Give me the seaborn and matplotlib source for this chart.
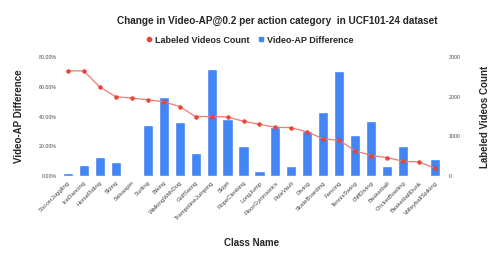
import seaborn as sns
import matplotlib.pyplot as plt
import pandas as pd
from matplotlib.ticker import PercentFormatter, FixedLocator
from matplotlib.lines import Line2D

sns.set_style("white")
plt.rcParams['font.family'] = ['Liberation Sans', 'DejaVu Sans']

classes = ["SoccerJuggling", "IceDancing", "HorseRiding", "Skiing", "Salsaspin",
           "Surfing", "Biking", "WalkingWithDog", "GolfSwing", "TrampolineJumping",
           "Skijet", "RopeClimbing", "LongJump", "FloorGymnastics", "PoleVault",
           "Diving", "SkateBoarding", "Fencing", "TennisSwing", "CliffDiving",
           "Basketball", "CricketBowling", "BasketballDunk", "VolleyballSpiking"]
ap_diff = [1.8, 7.4, 12.8, 9.2, 0.7, 34.1, 52.9, 36.5, 15.5, 71.7, 38.6, 20.0,
           3.6, 32.7, 6.7, 30.5, 43.0, 70.6, 27.8, 37.0, 6.5, 20.2, 0.2, 11.4]
video_count = [2650, 2650, 2245, 2000, 1965, 1923, 1872, 1753, 1500, 1500, 1490, 1380,
               1305, 1229, 1220, 1110, 940, 898, 635, 517, 466, 373, 356, 195]

df = pd.DataFrame({"cls": classes, "ap": [v / 100 for v in ap_diff], "count": video_count})

blue = "#4285F4"
red = "#EA4335"

fig = plt.figure(figsize=(4.98, 2.59), dpi=100)
ax = fig.add_axes([0.12, 0.32, 0.77, 0.46])
sns.barplot(data=df, x="cls", y="ap", color=blue, width=0.63, saturation=1, ax=ax)
ax2 = ax.twinx()
sns.pointplot(data=df, x="cls", y="count", color=red, markers="o", markersize=2.5,
              linewidth=0.9, ax=ax2)
ln = ax2.lines[0]
ln.set_zorder(3)
ln.set_color("#F07A70")
ln.set_markerfacecolor(red)
ln.set_markeredgecolor(red)

ax.set_ylim(0, 0.8)
ax2.set_ylim(0, 3000)
ax.set_xlim(-0.5, len(classes) - 0.5)
ax.yaxis.set_major_locator(FixedLocator([0, 0.2, 0.4, 0.6, 0.8]))
ax.yaxis.set_major_formatter(PercentFormatter(1.0, decimals=2))
ax2.yaxis.set_major_locator(FixedLocator([0, 1000, 2000, 3000]))

for a in (ax, ax2):
    for s in a.spines.values():
        s.set_visible(False)
    a.tick_params(length=0, pad=2)
ax.tick_params(axis="y", labelsize=3.8, labelcolor="#444444")
ax2.tick_params(axis="y", labelsize=3.8, labelcolor="#444444", pad=4)
ax.set_xticks(range(len(classes)))
ax.set_xticklabels(classes, rotation=45, ha="right", rotation_mode="anchor",
                   fontsize=4.3, color="#444444")
ax.tick_params(axis="x", pad=3)

ax.set_xlabel("Class Name", fontsize=7, fontweight="bold", labelpad=12)
ax.set_ylabel("Video-AP Difference", fontsize=7, fontweight="bold", labelpad=11)
ax2.set_ylabel("Labeled Videos Count", fontsize=7, fontweight="bold", labelpad=14)

fig.suptitle("Change in Video-AP@0.2 per action category  in UCF101-24 dataset",
             x=0.557, y=0.94, fontsize=7.2, fontweight="bold")
handles = [Line2D([], [], marker="o", color=red, linestyle="none", markersize=3),
           Line2D([], [], marker="s", color=blue, linestyle="none", markersize=3)]
leg = fig.legend(handles, ["Labeled Videos Count", "Video-AP Difference"], loc="center",
                 bbox_to_anchor=(0.5, 0.845), ncol=2, frameon=False, handletextpad=0.1,
                 columnspacing=0.8, handlelength=1, prop={"size": 6.5, "weight": "bold"})

fig.savefig("out.png", dpi=100)
